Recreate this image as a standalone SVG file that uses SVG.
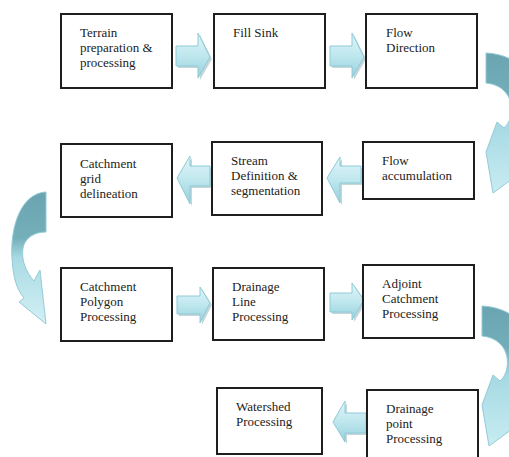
<svg xmlns="http://www.w3.org/2000/svg" width="509" height="457" viewBox="0 0 509 457">
<defs>
<linearGradient id="blk" x1="0" y1="0" x2="0" y2="1">
<stop offset="0" stop-color="#e2f5f8"/>
<stop offset="0.5" stop-color="#bfe7ee"/>
<stop offset="1" stop-color="#97d0dc"/>
</linearGradient>
<linearGradient id="crvR" gradientUnits="userSpaceOnUse" x1="0" y1="53" x2="0" y2="193">
<stop offset="0" stop-color="#6aa4b0"/>
<stop offset="0.3" stop-color="#72aeb9"/>
<stop offset="0.5" stop-color="#a6d9e3"/>
<stop offset="1" stop-color="#c8ecf2"/>
</linearGradient>
<linearGradient id="crvL" gradientUnits="userSpaceOnUse" x1="0" y1="192" x2="0" y2="324">
<stop offset="0" stop-color="#6aa4b0"/>
<stop offset="0.35" stop-color="#74afba"/>
<stop offset="0.5" stop-color="#a9dbe4"/>
<stop offset="1" stop-color="#d3f0f5"/>
</linearGradient>
</defs>
<style>
.box{fill:#fff;stroke:#1e1e1e;stroke-width:2}
.t{font-family:"Liberation Serif","Times New Roman",serif;font-size:13px;fill:#222}
.ba{fill:url(#blk);stroke:#8ccbd8;stroke-width:1}
.sh{fill:#9fb9c0;opacity:0.6}
.cr{stroke:#93cbd7;stroke-width:1}
</style>

<g id="connectors">
<!-- row 1 right arrows -->
<path class="sh" d="M178,48 H200 V35 L212,59 L200,80 V68 H178 Z"/>
<path class="ba" d="M176,46 H198 V33 L210,57 L198,78 V66 H176 Z"/>
<path class="sh" d="M332,48 H354 V35 L366,59 L354,80 V68 H332 Z"/>
<path class="ba" d="M330,46 H352 V33 L364,57 L352,78 V66 H330 Z"/>
<!-- row 2 left arrows -->
<path class="sh" d="M212,168 H192 V158 L179,180 L192,206 V188 H212 Z"/>
<path class="ba" d="M210,166 H190 V156 L177,178 L190,204 V186 H210 Z"/>
<path class="sh" d="M363,168 H342 V159 L329,180 L342,205 V185 H363 Z"/>
<path class="ba" d="M361,166 H340 V157 L327,178 L340,203 V183 H361 Z"/>
<!-- row 3 right arrows -->
<path class="sh" d="M179,298 H202 V289 L212,305 L202,325 V316 H179 Z"/>
<path class="ba" d="M177,296 H200 V287 L210,303 L200,323 V314 H177 Z"/>
<path class="sh" d="M332,295 H354 V285 L366,302 L354,322 V314 H332 Z"/>
<path class="ba" d="M330,293 H352 V283 L364,300 L352,320 V312 H330 Z"/>
<!-- row 4 left arrow -->
<path class="sh" d="M368,415 H347 V403 L335,424 L347,444 V435 H368 Z"/>
<path class="ba" d="M366,413 H345 V401 L333,422 L345,442 V433 H366 Z"/>
<!-- curved arrows -->
<path class="cr" fill="url(#crvR)" d="M486,53 C535,55 560,110 535,150 L545,155 L493,193 L486,152 L497,122 L504,128 C516,118 516,86 486,83 Z"/>
<path class="cr" fill="url(#crvR)" transform="translate(-4,253)" d="M486,53 C535,55 560,110 535,150 L545,155 L493,193 L486,152 L497,122 L504,128 C516,118 516,86 486,83 Z"/>
<path class="cr" fill="url(#crvL)" d="M46,192 C22,193 10,225 12,258 C13,278 17,290 24,298 L19,302 L46,324 L40,270 L34,281 C26,272 21,260 23,248 C25,238 34,232 46,232 Z"/>
</g>

<g id="n1"><rect class="box" x="61" y="14" width="111" height="74"/>
<text class="t" x="80" y="37">Terrain</text><text class="t" x="80" y="52">preparation &amp;</text><text class="t" x="80" y="67">processing</text></g>
<g id="n2"><rect class="box" x="214" y="14" width="111" height="74"/>
<text class="t" x="233" y="37">Fill Sink</text></g>
<g id="n3"><rect class="box" x="366" y="14" width="111" height="74"/>
<text class="t" x="386" y="37">Flow</text><text class="t" x="386" y="52">Direction</text></g>
<g id="n4"><rect class="box" x="363" y="142" width="111" height="57"/>
<text class="t" x="382" y="165">Flow</text><text class="t" x="382" y="180">accumulation</text></g>
<g id="n5"><rect class="box" x="212" y="142" width="110" height="73"/>
<text class="t" x="231" y="165">Stream</text><text class="t" x="231" y="180">Definition &amp;</text><text class="t" x="231" y="195">segmentation</text></g>
<g id="n6"><rect class="box" x="61" y="144" width="111" height="73"/>
<text class="t" x="80" y="168">Catchment</text><text class="t" x="80" y="183">grid</text><text class="t" x="80" y="198">delineation</text></g>
<g id="n7"><rect class="box" x="61" y="268" width="111" height="73"/>
<text class="t" x="80" y="291">Catchment</text><text class="t" x="80" y="306">Polygon</text><text class="t" x="80" y="321">Processing</text></g>
<g id="n8"><rect class="box" x="213" y="268" width="111" height="72"/>
<text class="t" x="232" y="291">Drainage</text><text class="t" x="232" y="306">Line</text><text class="t" x="232" y="321">Processing</text></g>
<g id="n9"><rect class="box" x="363" y="265" width="111" height="73"/>
<text class="t" x="382" y="288">Adjoint</text><text class="t" x="382" y="303">Catchment</text><text class="t" x="382" y="318">Processing</text></g>
<g id="n10"><rect class="box" x="367" y="390" width="111" height="70"/>
<text class="t" x="386" y="413">Drainage</text><text class="t" x="386" y="428">point</text><text class="t" x="386" y="443">Processing</text></g>
<g id="n11"><rect class="box" x="217" y="388" width="105" height="66"/>
<text class="t" x="236" y="411">Watershed</text><text class="t" x="236" y="426">Processing</text></g>
</svg>
